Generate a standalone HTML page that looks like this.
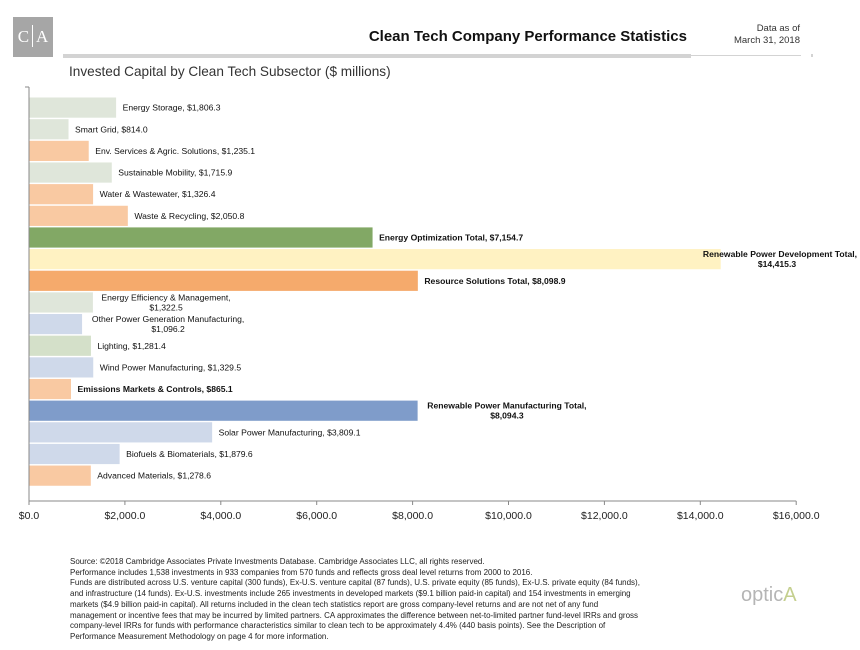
<!DOCTYPE html>
<html><head><meta charset="utf-8">
<style>
body{margin:0;width:860px;height:650px;background:#fff;font-family:"Liberation Sans",Arial,sans-serif;overflow:hidden;position:relative}
.abs{position:absolute}
</style></head><body>
<div class="abs" style="left:13px;top:17px;width:40px;height:40px;background:#a6a6a6;color:#fff;font-family:'Liberation Serif',serif;font-size:17px;line-height:40px;text-align:center">C<span style="display:inline-block;width:1px;height:22px;background:#fff;margin:0 3px;vertical-align:-5px"></span>A</div>
<div class="abs" style="left:300px;width:387px;top:28px;text-align:right;font-weight:bold;font-size:15px;color:#111">Clean Tech Company Performance Statistics</div>
<div class="abs" style="left:700px;width:100px;top:23px;text-align:right;font-size:9.5px;color:#333;line-height:12px">Data as of<br>March 31, 2018</div>
<div class="abs" style="left:63px;top:54px;width:628px;height:4px;background:#d3d3d3"></div>
<div class="abs" style="left:691px;top:55px;width:110px;height:1px;background:#d3d3d3"></div>
<div class="abs" style="left:811px;top:54px;width:2px;height:3px;background:#d3d3d3"></div>
<div class="abs" style="left:69px;top:64px;font-size:13.6px;color:#333">Invested Capital by Clean Tech Subsector ($ millions)</div>
<svg class="abs" style="left:0;top:0" width="860" height="540" id="chart"></svg>
<div class="abs" style="left:70px;top:556px;white-space:nowrap;font-size:8.6px;line-height:10.7px;color:#222;transform:scaleX(0.93);transform-origin:0 0">Source: ©2018 Cambridge Associates Private Investments Database. Cambridge Associates LLC, all rights reserved.<br>Performance includes 1,538 investments in 933 companies from 570 funds and reflects gross deal level returns from 2000 to 2016.<br>Funds are distributed across U.S. venture capital (300 funds), Ex-U.S. venture capital (87 funds), U.S. private equity (85 funds), Ex-U.S. private equity (84 funds),<br>and infrastructure (14 funds). Ex-U.S. investments include 265 investments in developed markets ($9.1 billion paid-in capital) and 154 investments in emerging<br>markets ($4.9 billion paid-in capital). All returns included in the clean tech statistics report are gross company-level returns and are not net of any fund<br>management or incentive fees that may be incurred by limited partners. CA approximates the difference between net-to-limited partner fund-level IRRs and gross<br>company-level IRRs for funds with performance characteristics similar to clean tech to be approximately 4.4% (440 basis points). See the Description of<br>Performance Measurement Methodology on page 4 for more information.</div>
<div class="abs" style="left:741px;top:584px;font-size:20px;color:#b5b5b5;font-weight:300">optic<span style="color:#c4cf8e">A</span></div>
<script>
const categories=["Energy Storage","Smart Grid","Env. Services & Agric. Solutions","Sustainable Mobility","Water & Wastewater","Waste & Recycling","Energy Optimization Total","Renewable Power Development Total","Resource Solutions Total","Energy Efficiency & Management","Other Power Generation Manufacturing","Lighting","Wind Power Manufacturing","Emissions Markets & Controls","Renewable Power Manufacturing Total","Solar Power Manufacturing","Biofuels & Biomaterials","Advanced Materials"];
const values=[1806.3,814.0,1235.1,1715.9,1326.4,2050.8,7154.7,14415.3,8098.9,1322.5,1096.2,1281.4,1329.5,865.1,8094.3,3809.1,1879.6,1278.6];
const colorKeys=["lg","lg","pe","lg","pe","pe","dg","ye","or","lg","lb","lg2","lb","pe","bl","lb","lb","pe"];
const ticks=[0,2000,4000,6000,8000,10000,12000,14000,16000];
const palette={lg:"#dfe6da",lg2:"#d4e0c9",pe:"#f9c9a2",dg:"#82a865",ye:"#fff2c2",or:"#f5aa6c",lb:"#cfd9ea",bl:"#7f9cca"};
const svg=document.getElementById('chart');const NS="http://www.w3.org/2000/svg";
const x0=29,k=0.04795,top0=97.5,pitch=21.65,bh=20.2;
const xs=v=>x0+v*k, ys=i=>top0+i*pitch;
function mk(t,a){const e=document.createElementNS(NS,t);for(const n in a)e.setAttribute(n,a[n]);svg.appendChild(e);return e;}
const fmt=v=>"$"+v.toLocaleString("en-US",{minimumFractionDigits:1,maximumFractionDigits:1});
categories.forEach((c,i)=>{
 const r=mk('rect',{x:x0+0.5,y:ys(i),width:xs(values[i])-x0,height:bh,fill:palette[colorKeys[i]]});
 
 
 const bold=/Total|Emissions/.test(c);
 const two=/Energy Efficiency|Other Power|Renewable Power/.test(c);
 const cy=ys(i)+bh/2;
 let lx=xs(values[i])+7;
 const t=mk('text',{'font-size':'8.6','font-weight':bold?'bold':'normal',fill:'#111'});
 
 
 if(two){
  const l1=c+",",l2=fmt(values[i]);
  const isDev=c.startsWith("Renewable Power Development");
  const cx=isDev?777:lx+(l1.length*(bold?4.6:4.3))/2;
  [l1,l2].forEach((s,j)=>{const ts=document.createElementNS(NS,'tspan');
   ts.setAttribute('x',(isDev&&j===0)?857:cx);ts.setAttribute('y',cy-2+j*10);
   ts.setAttribute('text-anchor',(isDev&&j===0)?'end':'middle');ts.textContent=s;t.appendChild(ts);});
 } else {
  t.setAttribute('x',lx);t.setAttribute('y',cy+3);t.textContent=c+", "+fmt(values[i]);
 }
});
mk('line',{x1:x0,y1:87,x2:x0,y2:501,stroke:'#888','stroke-width':1});
mk('line',{x1:25,y1:87,x2:x0,y2:87,stroke:'#888','stroke-width':1});
mk('line',{x1:x0,y1:501,x2:xs(16000),y2:501,stroke:'#888','stroke-width':1});
ticks.forEach(v=>{
 mk('line',{x1:xs(v),y1:501,x2:xs(v),y2:505,stroke:'#888','stroke-width':1});
 const t=mk('text',{x:xs(v),y:519,'text-anchor':'middle','font-size':'10.5',fill:'#222'});
 
 
 t.textContent=fmt(v);
});
</script>
</body></html>
